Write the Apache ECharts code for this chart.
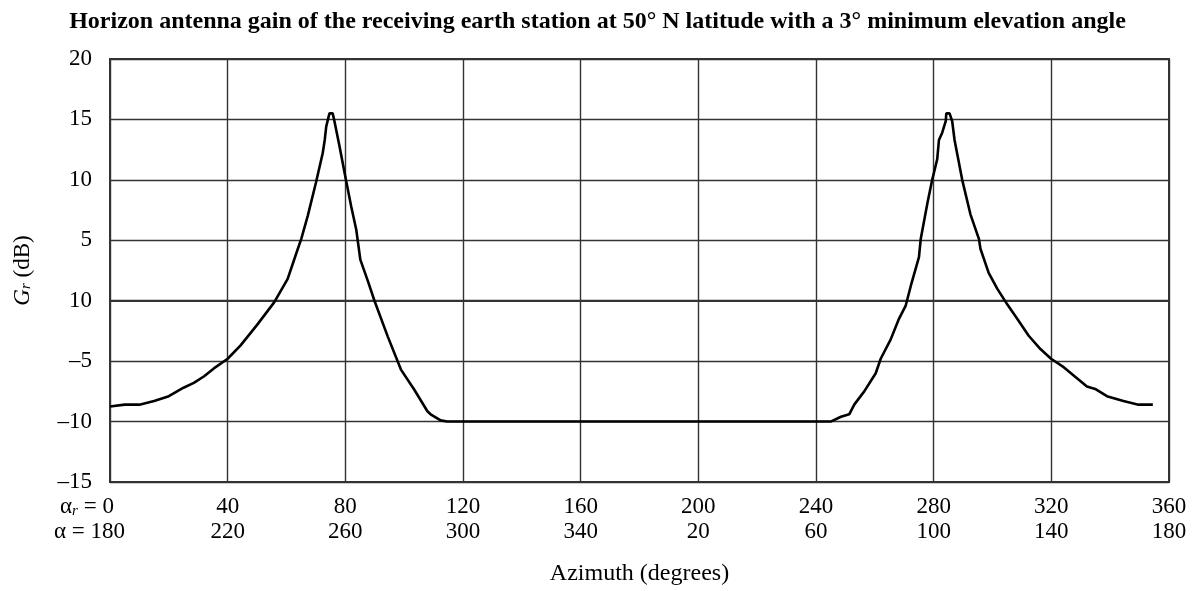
<!DOCTYPE html>
<html>
<head>
<meta charset="utf-8">
<script src="https://cdn.jsdelivr.net/npm/echarts@6/dist/echarts.min.js"></script>
<style>
html,body{margin:0;padding:0;background:#fff;}
#chart{width:1195px;height:591px;}
</style>
</head>
<body>
<div id="chart"></div>
<script>
// Azimuth alpha_r (degrees)
var azimuth = [0, 5, 10, 15, 20, 25, 28.5, 32, 35.3, 40, 44.4, 50, 55.8, 60.4, 63.8, 65, 67.2, 70, 72.3, 73, 73.5, 74.6, 75.7, 76.3, 78, 80.2, 82, 83.7, 85.1, 87.7, 89.9, 94.4, 98.9, 103.4, 107.9, 109, 112.4, 114.6,
  245, 248.5, 251.3, 253, 256.4, 260.3, 262, 265.4, 268.2, 270.5, 272.2, 275, 275.6, 277.9, 279.5, 281.2, 281.8, 282.9, 284.1, 284.3, 285.4, 286.3, 287.1, 289.7, 292.5, 295.4, 295.9, 298.7, 301.6, 305, 308.4, 312.3, 316.3, 319.9, 324.2, 328.1, 332.1, 334.9, 338.9, 344.5, 349.6, 354.5];
// Gain G_r (dB)
var gain = [-8.76, -8.6, -8.6, -8.3, -7.9, -7.2, -6.8, -6.25, -5.6, -4.8, -3.7, -2.0, -0.14, 1.8, 4.26, 5.1, 7.0, 9.76, 12.2, 13.3, 14.4, 15.5, 15.5, 14.85, 12.8, 10.0, 7.8, 5.9, 3.4, 1.6, 0, -2.95, -5.7, -7.35, -9.15, -9.4, -9.9, -10,
  -10, -9.6, -9.4, -8.6, -7.5, -6.0, -4.8, -3.2, -1.5, -0.4, 1.2, 3.6, 5.1, 8.1, 10.0, 11.7, 13.3, 13.9, 14.85, 15.5, 15.5, 14.85, 13.3, 10, 7.15, 5.1, 4.3, 2.3, 1.0, -0.3, -1.5, -2.9, -4.0, -4.8, -5.5, -6.3, -7.1, -7.3, -7.9, -8.3, -8.6, -8.6];
// x tick labels: alpha_r row and alpha row
var xTicks = [0, 40, 80, 120, 160, 200, 240, 280, 320, 360];
var alphaRLabels = ['0', '40', '80', '120', '160', '200', '240', '280', '320', '360'];
var alphaLabels = ['180', '220', '260', '300', '340', '20', '60', '100', '140', '180'];
// y tick labels (as printed in the reference)
var yTicks = [-15, -10, -5, 0, 5, 10, 15, 20];
var yLabels = ['–15', '–10', '–5', '10', '5', '10', '15', '20'];

var FONT = 'Liberation Serif';
var chart = echarts.init(document.getElementById('chart'), null, {renderer: 'canvas'});
var pts = azimuth.map(function (x, i) { return [x, gain[i]]; });

chart.setOption({
  animation: false,
  backgroundColor: '#fff',
  title: {
    text: 'Horizon antenna gain of the receiving earth station at 50° N latitude with a 3° minimum elevation angle',
    left: 'center',
    top: 5,
    textStyle: {fontFamily: FONT, fontWeight: 'bold', fontSize: 24, color: '#000'}
  },
  grid: {left: 110, right: 26, top: 59, bottom: 108, show: true, borderColor: '#333', borderWidth: 2, backgroundColor: 'transparent'},
  xAxis: {
    type: 'value', min: 0, max: 360, interval: 40,
    name: 'Azimuth (degrees)', nameLocation: 'middle', nameGap: 80,
    nameTextStyle: {fontFamily: FONT, fontSize: 24, color: '#000'},
    axisLine: {show: true, lineStyle: {color: '#333', width: 2}},
    axisTick: {show: false},
    splitLine: {show: true, lineStyle: {color: '#333', width: 1.4}},
    axisLabel: {
      margin: 12,
      fontFamily: FONT, fontSize: 23, color: '#000', lineHeight: 25,
      formatter: function (v) {
        var i = xTicks.indexOf(v);
        if (i < 0) return '';
        if (i === 0) {
          return '{g|α}{s|r}{g| = ' + alphaRLabels[i] + '}{sp1| }\n{g|α = ' + alphaLabels[i] + '}{sp2| }';
        }
        return alphaRLabels[i] + '\n' + alphaLabels[i];
      },
      rich: {
        g: {fontFamily: FONT, fontSize: 23, color: '#000', lineHeight: 25},
        s: {fontFamily: FONT, fontSize: 15, fontStyle: 'italic', color: '#000', lineHeight: 25, verticalAlign: 'bottom', padding: [8, 0, 0, 0]},
        sp1: {width: 46, fontSize: 23, lineHeight: 25},
        sp2: {width: 41, fontSize: 23, lineHeight: 25}
      }
    }
  },
  yAxis: {
    type: 'value', min: -15, max: 20, interval: 5,
    name: '{i|G}{s|r}{n| (dB)}', nameLocation: 'middle', nameGap: 76, nameRotate: 90,
    nameTextStyle: {
      fontFamily: FONT, fontSize: 23, color: '#000',
      rich: {
        i: {fontFamily: FONT, fontSize: 23, fontStyle: 'italic', color: '#000'},
        s: {fontFamily: FONT, fontSize: 15, fontStyle: 'italic', color: '#000', padding: [8, 0, 0, 0]},
        n: {fontFamily: FONT, fontSize: 23, color: '#000'}
      }
    },
    axisLine: {show: true, lineStyle: {color: '#333', width: 2}},
    axisTick: {show: false},
    splitLine: {show: true, lineStyle: {color: '#333', width: 1.4}},
    axisLabel: {
      margin: 18, fontFamily: FONT, fontSize: 23, color: '#000',
      formatter: function (v) {
        var i = yTicks.indexOf(v);
        return i < 0 ? '' : yLabels[i];
      }
    }
  },
  series: [{
    type: 'line',
    data: pts,
    showSymbol: false,
    smooth: false,
    lineStyle: {color: '#000', width: 2.6},
    z: 5
  }]
});
</script>
</body>
</html>
